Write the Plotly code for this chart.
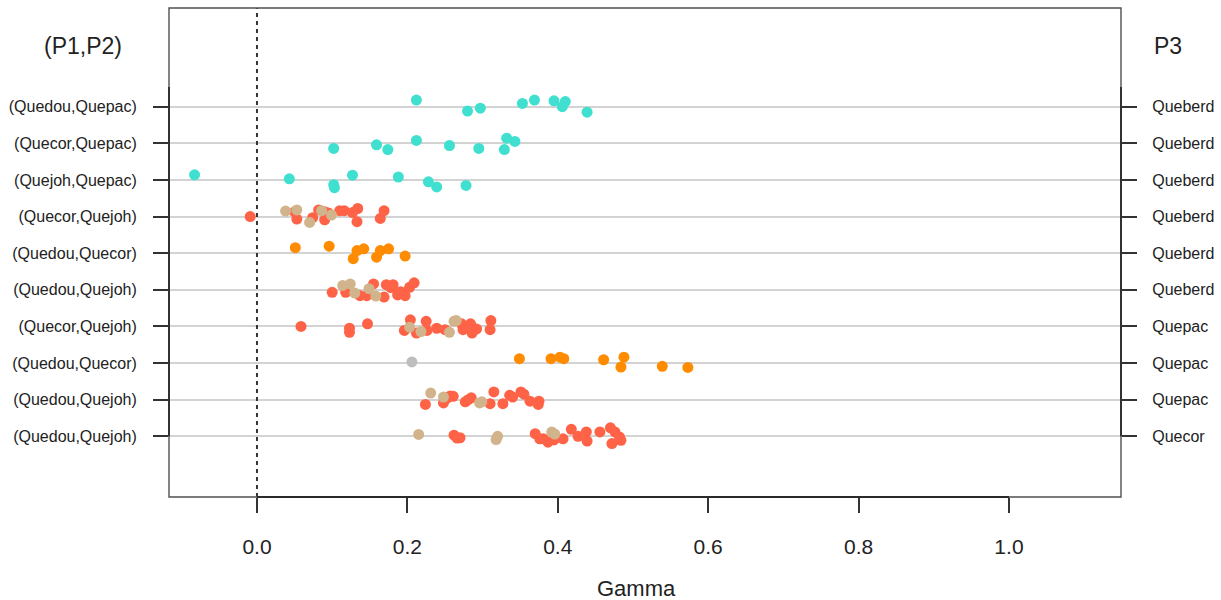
import plotly.graph_objects as go

# ---------------- data ----------------
# rows listed top to bottom
pair_labels = ["(Quedou,Quepac)", "(Quecor,Quepac)", "(Quejoh,Quepac)", "(Quecor,Quejoh)",
               "(Quedou,Quecor)", "(Quedou,Quejoh)", "(Quecor,Quejoh)", "(Quedou,Quecor)",
               "(Quedou,Quejoh)", "(Quedou,Quejoh)"]
p3_labels = ["Queberd", "Queberd", "Queberd", "Queberd", "Queberd", "Queberd",
             "Quepac", "Quepac", "Quepac", "Quecor"]
x_ticks = [0.0, 0.2, 0.4, 0.6, 0.8, 1.0]
x_ticktext = ["0.0", "0.2", "0.4", "0.6", "0.8", "1.0"]

# turquoise group (row index 0 = top)
turq_row = [0]*9 + [1]*9 + [2]*9
turq_gamma = [0.212, 0.280, 0.297, 0.353, 0.369, 0.395, 0.406, 0.410, 0.439,
              0.102, 0.159, 0.174, 0.212, 0.256, 0.295, 0.332, 0.343, 0.329,
              -0.083, 0.043, 0.102, 0.103, 0.127, 0.188, 0.228, 0.239, 0.278]
turq_jit = [0.18, -0.12, -0.04, 0.09, 0.18, 0.16, 0.0, 0.14, -0.15,
            -0.14, -0.04, -0.17, 0.08, -0.06, -0.14, 0.14, 0.05, -0.17,
            0.14, 0.03, -0.13, -0.21, 0.13, 0.08, -0.05, -0.19, -0.15]

# tomato group
tomato_row = [3]*15 + [5]*14 + [6]*18 + [8]*18 + [9]*19
tomato_gamma = [-0.009, 0.053, 0.050, 0.074, 0.082, 0.090, 0.090, 0.095, 0.110, 0.116,
                0.127, 0.134, 0.133, 0.164, 0.169,
                0.100, 0.118, 0.137, 0.146, 0.155, 0.169, 0.172, 0.181, 0.187, 0.197,
                0.203, 0.209, 0.191, 0.178,
                0.0585, 0.123, 0.123, 0.147, 0.196, 0.204, 0.212, 0.225, 0.226, 0.239,
                0.250, 0.272, 0.274, 0.284, 0.286, 0.292, 0.311, 0.310,
                0.224, 0.252, 0.248, 0.261, 0.277, 0.285, 0.310, 0.315, 0.327, 0.336,
                0.351, 0.363, 0.375, 0.374, 0.257, 0.281, 0.355, 0.340,
                0.262, 0.270, 0.266, 0.370, 0.381, 0.387, 0.407, 0.418, 0.427, 0.438,
                0.439, 0.456, 0.470, 0.476, 0.482, 0.472, 0.484, 0.395, 0.376]
tomato_jit = [0.0, -0.07, 0.13, -0.03, 0.18, 0.13, -0.09, 0.10, 0.16, 0.16,
              0.11, 0.22, -0.14, -0.05, 0.16,
              -0.07, -0.07, -0.16, -0.16, 0.16, -0.20, 0.14, 0.14, -0.14, -0.16,
              0.07, 0.19, -0.05, 0.06,
              0.0, -0.05, -0.16, 0.07, -0.11, 0.18, -0.18, 0.14, -0.11, -0.05,
              -0.09, 0.07, -0.09, 0.07, -0.18, -0.07, 0.16, -0.09,
              -0.13, 0.03, -0.09, 0.09, -0.06, 0.05, -0.11, 0.21, -0.11, 0.12,
              0.21, -0.04, -0.04, -0.13, 0.10, 0.0, 0.15, 0.07,
              0.03, -0.04, -0.05, 0.07, -0.07, -0.16, -0.07, 0.19, 0.0, 0.12,
              -0.13, 0.12, 0.23, 0.12, -0.02, -0.20, -0.11, -0.10, -0.07]

# tan group
tan_row = [3]*5 + [5]*5 + [6]*5 + [8]*4 + [9]*5
tan_gamma = [0.038, 0.053, 0.070, 0.086, 0.099,
             0.114, 0.124, 0.130, 0.149, 0.158,
             0.203, 0.218, 0.256, 0.262, 0.265,
             0.231, 0.248, 0.296, 0.299,
             0.215, 0.320, 0.318, 0.392, 0.396]
tan_jit = [0.15, 0.18, -0.16, 0.16, 0.04,
           0.12, 0.16, -0.09, 0.03, -0.17,
           -0.02, -0.14, -0.16, 0.14, 0.16,
           0.18, 0.07, -0.09, -0.06,
           0.05, 0.0, -0.09, 0.12, 0.06]

# dark orange group
orange_row = [4]*9 + [7]*9
orange_gamma = [0.051, 0.096, 0.128, 0.133, 0.142, 0.159, 0.164, 0.175, 0.197,
                0.349, 0.391, 0.403, 0.408, 0.461, 0.488, 0.484, 0.539, 0.573]
orange_jit = [0.15, 0.19, -0.15, 0.07, 0.12, -0.11, 0.07, 0.12, -0.08,
              0.12, 0.12, 0.16, 0.12, 0.09, 0.16, -0.11, -0.09, -0.12]

# gray group
gray_row = [7]
gray_gamma = [0.206]
gray_jit = [0.03]

# ---------------- figure ----------------
n_rows = len(pair_labels)
row_pos = [n_rows - i for i in range(n_rows)]  # top row highest


def ypos(rows, jit):
    return [row_pos[r] + j for r, j in zip(rows, jit)]


FONT = "Liberation Sans, Arial, Helvetica, sans-serif"
fig = go.Figure()

groups = [
    (turq_row, turq_gamma, turq_jit, "#40E0D0"),
    (orange_row, orange_gamma, orange_jit, "#FF8C00"),
    (gray_row, gray_gamma, gray_jit, "#BEBEBE"),
    (tomato_row, tomato_gamma, tomato_jit, "#FF6347"),
    (tan_row, tan_gamma, tan_jit, "#D2B48C"),
]
for rows, g, j, col in groups:
    fig.add_trace(go.Scatter(
        x=g, y=ypos(rows, j), mode="markers",
        marker=dict(color=col, size=11, line=dict(width=0)),
        showlegend=False, hoverinfo="x"))

# invisible trace for right axis
fig.add_trace(go.Scatter(x=[None], y=[None], yaxis="y2", showlegend=False))

y_range = [-0.658, 12.695]
fig.update_layout(
    width=1221, height=600,
    margin=dict(l=169, r=100, t=8, b=103, autoexpand=False),
    plot_bgcolor="white", paper_bgcolor="white",
    font=dict(family=FONT, color="#222222"),
    xaxis=dict(range=[-0.117, 1.149], tickvals=x_ticks, ticktext=x_ticktext,
               showgrid=False, zeroline=False, showline=False,
               ticks="outside", ticklen=15, tickwidth=1.5, tickcolor="#333333",
               tickfont=dict(size=21, family=FONT, color="#222222"),
               ticklabelstandoff=16),
    yaxis=dict(range=y_range, tickvals=row_pos, ticktext=pair_labels,
               showgrid=True, gridcolor="#d3d3d3", gridwidth=2,
               zeroline=False, showline=False,
               ticks="outside", ticklen=15, tickwidth=1.5, tickcolor="#333333",
               tickfont=dict(size=16, family=FONT, color="#222222"),
               ticklabelstandoff=13),
    yaxis2=dict(range=y_range, tickvals=row_pos, ticktext=p3_labels,
                overlaying="y", side="right", showgrid=False, zeroline=False,
                showline=False, ticks="outside", ticklen=15, tickwidth=1.5,
                tickcolor="#333333",
                tickfont=dict(size=16, family=FONT, color="#222222"),
                ticklabelstandoff=12),
)

# zero reference line
fig.add_shape(type="line", xref="x", yref="paper", x0=0, x1=0, y0=0, y1=1,
              line=dict(color="#333333", width=2, dash="4px,4px"))
# frame
fig.add_shape(type="rect", xref="paper", yref="paper", x0=0, x1=1, y0=0, y1=1,
              line=dict(color="#505050", width=1.4))
# axis lines spanning the tick range (darker)
y_top_axis = row_pos[0] + 0.54
fig.add_shape(type="line", xref="paper", yref="y", x0=0, x1=0,
              y0=row_pos[-1], y1=y_top_axis, line=dict(color="#2a2a2a", width=1.8))
fig.add_shape(type="line", xref="paper", yref="y", x0=1, x1=1,
              y0=row_pos[-1], y1=y_top_axis, line=dict(color="#2a2a2a", width=1.8))
fig.add_shape(type="line", xref="x", yref="paper", x0=x_ticks[0], x1=x_ticks[-1],
              y0=0, y1=0, line=dict(color="#2a2a2a", width=1.8))

fig.add_annotation(text="Gamma", xref="paper", yref="paper",
                   x=(636 - 169) / 952, y=(497 - 588) / 489,
                   showarrow=False, font=dict(size=22, family=FONT, color="#222222"),
                   xanchor="center", yanchor="middle")
fig.add_annotation(text="(P1,P2)", xref="paper", yref="paper",
                   x=(83 - 169) / 952, y=(497 - 46) / 489,
                   showarrow=False, font=dict(size=23, family=FONT, color="#222222"),
                   xanchor="center", yanchor="middle")
fig.add_annotation(text="P3", xref="paper", yref="paper",
                   x=(1168 - 169) / 952, y=(497 - 46) / 489,
                   showarrow=False, font=dict(size=23, family=FONT, color="#222222"),
                   xanchor="center", yanchor="middle")

fig.write_html("out.html", config={"displayModeBar": False},
               post_script="document.body.style.margin='0';document.body.style.overflow='hidden';")
